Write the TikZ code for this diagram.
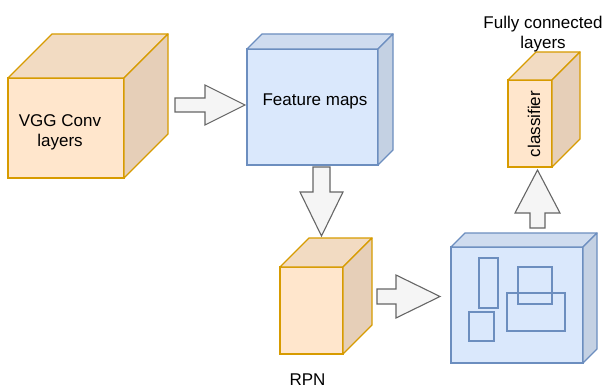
\documentclass[tikz,border=0pt]{standalone}
\usepackage{fontspec}
\setmainfont{Liberation Sans}
\definecolor{ostroke}{HTML}{D79B00}
\definecolor{ofront}{HTML}{FFE6CC}
\definecolor{otop}{HTML}{F2DBC2}
\definecolor{oside}{HTML}{E6CFB8}
\definecolor{bstroke}{HTML}{6C8EBF}
\definecolor{bfront}{HTML}{DAE8FC}
\definecolor{btop}{HTML}{CFDCEF}
\definecolor{bside}{HTML}{C4D1E3}
\definecolor{afill}{HTML}{F5F5F5}
\definecolor{astroke}{HTML}{666666}
\tikzset{
  oface/.style={draw=ostroke, fill=ofront, line width=1.3pt, outer sep=0pt, inner sep=0pt, rectangle},
  otopf/.style={draw=ostroke, fill=otop, line width=1.3pt, line join=round},
  osidef/.style={draw=ostroke, fill=oside, line width=1.3pt, line join=round},
  bface/.style={draw=bstroke, fill=bfront, line width=1.3pt, outer sep=0pt, inner sep=0pt, rectangle},
  btopf/.style={draw=bstroke, fill=btop, line width=1.3pt, line join=round},
  bsidef/.style={draw=bstroke, fill=bside, line width=1.3pt, line join=round},
  blockarrow/.style={draw=astroke, fill=afill, line width=1.1pt, line join=miter},
  inbox/.style={draw=bstroke, line width=1.3pt},
  lbl/.style={font=\fontsize{17}{20}\selectfont, inner sep=0pt, align=center},
}
\newcommand\mkcube[7]{%
  \node[#7face, minimum width={#4-#2}, minimum height={#5-#3}] (#1) at ({(#2+#4)/2},{(#3+#5)/2}) {};
  \filldraw[#7topf] (#1.north west) -- ++(#6,-#6) -- ++({#4-#2},0) -- (#1.north east) -- cycle;
  \filldraw[#7sidef] (#1.north east) -- ++(#6,-#6) -- ++(0,{#5-#3}) -- (#1.south east) -- cycle;
}
\begin{document}
\begin{tikzpicture}[x=1pt,y=-1pt]
\useasboundingbox (0,0) rectangle (604,390);
% cubes
\mkcube{vgg}{8}{78}{124}{178}{44}{o}
\mkcube{feat}{247}{49}{378}{165}{15}{b}
\mkcube{cls}{508}{80}{552}{167}{28}{o}
\mkcube{rpn}{280}{267}{343}{354}{29}{o}
\mkcube{roi}{451}{247}{583}{363}{14}{b}
% inner boxes
\draw[inbox] (479,258) rectangle (498,308);
\draw[inbox] (469,312) rectangle (494,341);
\draw[inbox] (518,267) rectangle (552,304);
\draw[inbox] (507,293) rectangle (565,331);
% labels
\node[lbl] (vggtxt) at (60,132.6) {VGG Conv\\layers};
\node[lbl, anchor=base] (feattxt) at (315,106) {Feature maps};
\node[lbl, rotate=90] (clstxt) at (534,124) {classifier};
\node[lbl] (fctxt) at (543,33.7) {Fully connected\\layers};
\node[lbl, anchor=base, text depth=0pt] (rpntxt) at (307.5,385.5) {RPN};
% block arrows
\draw[blockarrow] (175,98) -- (205,98) -- (205,85) -- (245,105) -- (205,125) -- (205,112) -- (175,112) -- cycle;
\draw[blockarrow] (313,167) -- (330,167) -- (330,192) -- (343,192) -- (321.5,236) -- (300,192) -- (313,192) -- cycle;
\draw[blockarrow] (377,289) -- (396,289) -- (396,275) -- (440,296.5) -- (396,318) -- (396,304) -- (377,304) -- cycle;
\draw[blockarrow] (530,228) -- (530,213) -- (515,213) -- (537.5,170) -- (560,213) -- (545,213) -- (545,228) -- cycle;
\end{tikzpicture}
\end{document}
